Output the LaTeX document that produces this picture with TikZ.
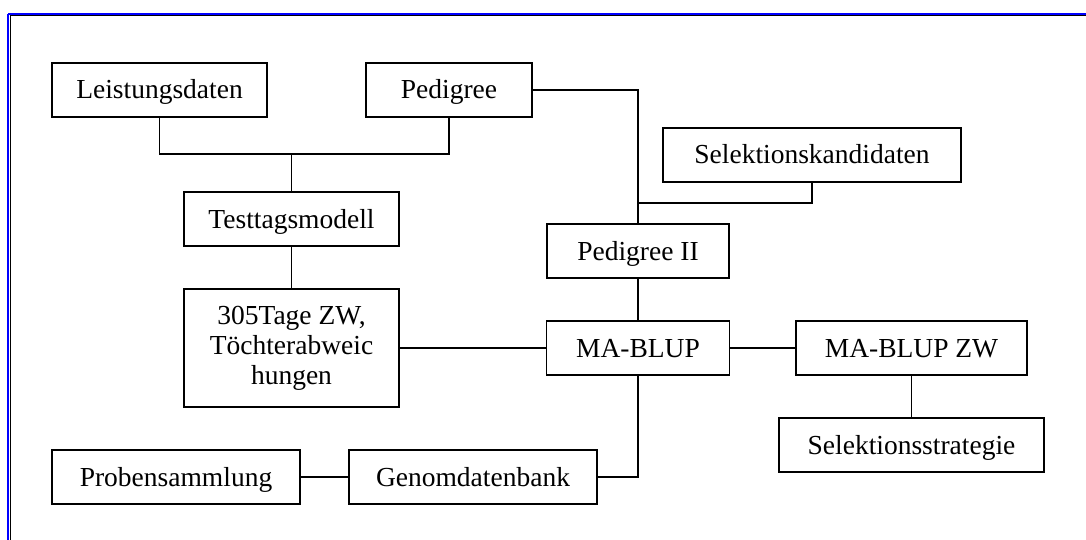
\documentclass[tikz,border=0pt]{standalone}
\usepackage{fontspec}
\setmainfont{Liberation Serif}
\begin{document}
\begin{tikzpicture}[x=1pt,y=-1pt,
  boxbase/.style={draw=black,line width=1.8pt,fill=white,inner sep=0pt,minimum height=54pt,
    font=\fontsize{27.5}{30}\selectfont},
  box/.style={boxbase,text height=18pt,text depth=0pt},
  mbox/.style={boxbase,align=center},
  link/.style={draw=black,line width=1.8pt}]
\useasboundingbox (0,0) rectangle (1086,540);
\fill[white] (0,0) rectangle (1086,540);
% frame
\draw[blue,line width=2.4pt] (8,14) -- (1086,14);
\draw[blue,line width=2.4pt] (8,14) -- (8,540);
\draw[black,line width=1pt] (9.5,16) -- (1086,16);
\draw[black,line width=1pt] (10,16) -- (10,540);
% nodes
\node[box,minimum width=215pt] (lei) at (159.5,90) {Leistungsdaten};
\node[box,minimum width=166pt] (ped) at (449,90) {Pedigree};
\node[box,minimum width=298pt] (sel) at (812,155) {Selektionskandidaten};
\node[box,minimum width=215pt] (test) at (291.5,219) {Testtagsmodell};
\node[box,minimum width=182pt] (ped2) at (638,251) {Pedigree II};
\node[mbox,minimum width=215pt,minimum height=118pt] (zw) at (291.5,348) {305Tage ZW,\\Töchterabweic\\hungen};
\node[box,minimum width=183pt] (ma) at (638,348) {MA-BLUP};
\node[box,minimum width=231pt] (mazw) at (911.5,348) {MA-BLUP ZW};
\node[box,minimum width=265pt] (strat) at (911.5,445) {Selektionsstrategie};
\node[box,minimum width=248pt] (prob) at (176,477) {Probensammlung};
\node[box,minimum width=248pt] (gen) at (473,477) {Genomdatenbank};
% connectors
\coordinate (j1) at (291.5,154);
\coordinate (j2) at (638,203);
\draw[link] (lei.south) |- (j1) -| (ped.south);
\draw[link] (j1) -- (test.north);
\draw[link] (ped.east) -| (ped2.north);
\draw[link] (sel.south) |- (j2);
\draw[link] (test.south) -- (zw.north);
\draw[link] (ped2.south) -- (ma.north);
\draw[link] (zw.east) -- (ma.west);
\draw[link] (ma.east) -- (mazw.west);
\draw[link] (mazw.south) -- (strat.north);
\draw[link] (prob.east) -- (gen.west);
\draw[link] (gen.east) -| (ma.south);
\end{tikzpicture}
\end{document}
